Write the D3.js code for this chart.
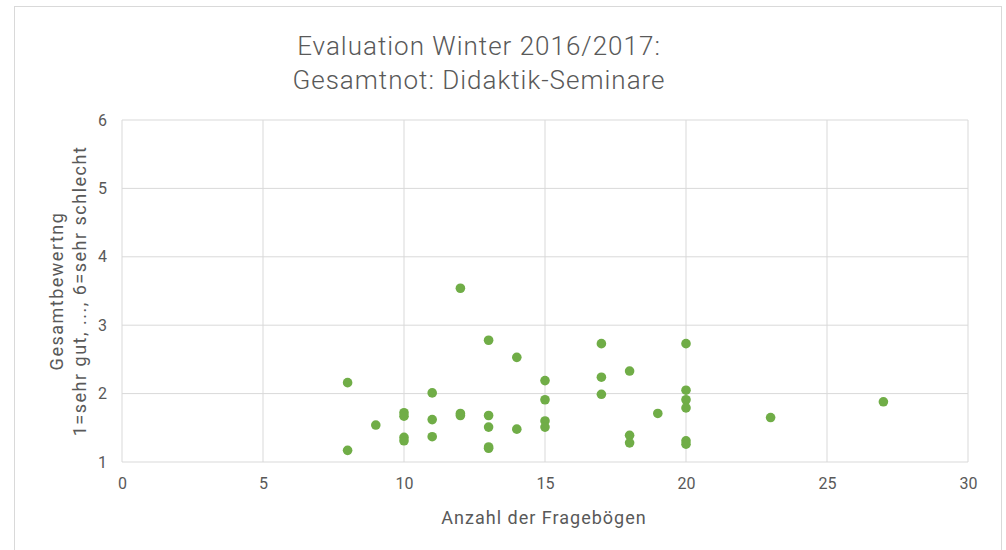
<!DOCTYPE html>
<html lang="de">
<head>
<meta charset="UTF-8">
<title>Evaluation Winter 2016/2017</title>
<script src="https://d3js.org/d3.v7.min.js"></script>
<style>
  body { margin: 0; background: #fff; }
  text { font-family: Roboto, "Open Sans", sans-serif; fill: #595959; }
</style>
</head>
<body>
<svg id="chart" width="1006" height="550"></svg>
<script>
// number of questionnaires per seminar
const anzahl = [8, 8, 9, 10, 10, 10, 10, 11, 11, 11, 12, 12, 12,
  13, 13, 13, 13, 13, 14, 14, 15, 15, 15, 15,
  17, 17, 17, 18, 18, 18, 19, 20, 20, 20, 20, 20, 20, 23, 27];
// overall grade (1 = sehr gut ... 6 = sehr schlecht)
const note = [2.16, 1.17, 1.54, 1.72, 1.67, 1.36, 1.31, 2.01, 1.62, 1.37, 3.54, 1.71, 1.68,
  2.78, 1.68, 1.51, 1.20, 1.22, 2.53, 1.48, 2.19, 1.91, 1.60, 1.51,
  2.73, 2.24, 1.99, 2.33, 1.39, 1.28, 1.71, 2.73, 2.05, 1.91, 1.79, 1.31, 1.26, 1.65, 1.88];
const xTicks = [0, 5, 10, 15, 20, 25, 30];
const yTicks = [1, 2, 3, 4, 5, 6];

const svg = d3.select('#chart');

// outer chart border
svg.append('rect')
  .attr('x', 14.5).attr('y', 6.5)
  .attr('width', 987).attr('height', 560)
  .attr('fill', 'none')
  .attr('stroke', '#d9d9d9');

const plotLeft = 122, plotRight = 968, plotTop = 120, plotBottom = 462;

const x = d3.scaleLinear().domain([0, 30]).range([plotLeft, plotRight]);
const y = d3.scaleLinear().domain([1, 6]).range([plotBottom, plotTop]);

// gridlines
const grid = svg.append('g');
grid.selectAll('.vgrid')
  .data(xTicks)
  .enter()
  .append('line')
  .attr('x1', d => x(d)).attr('x2', d => x(d))
  .attr('y1', plotTop).attr('y2', plotBottom)
  .attr('stroke', '#d9d9d9').attr('stroke-width', 1);
grid.selectAll('.hgrid')
  .data(yTicks)
  .enter()
  .append('line')
  .attr('x1', plotLeft).attr('x2', plotRight)
  .attr('y1', d => y(d)).attr('y2', d => y(d))
  .attr('stroke', '#d9d9d9').attr('stroke-width', 1);

// axes (labels only, lines come from grid)
const xAxis = svg.append('g')
  .attr('transform', `translate(0, ${plotBottom + 16})`)
  .call(d3.axisBottom(x).tickValues(xTicks).tickFormat(d3.format('d')).tickSize(0).tickPadding(0));
const yAxis = svg.append('g')
  .attr('transform', `translate(${plotLeft - 15}, 0)`)
  .call(d3.axisLeft(y).tickValues(yTicks).tickFormat(d3.format('d')).tickSize(0).tickPadding(0));
[xAxis, yAxis].forEach(a => {
  a.select('.domain').remove();
  a.selectAll('text')
    .attr('font-size', '16px')
    .attr('fill', '#595959')
    .style('font-family', 'Roboto, sans-serif');
});

// points
svg.append('g')
  .selectAll('circle')
  .data(anzahl.map((a, i) => ({ a: a, n: note[i] })))
  .enter()
  .append('circle')
  .attr('cx', d => x(d.a))
  .attr('cy', d => y(d.n))
  .attr('r', 4.8)
  .attr('fill', '#70ad47');

// title
const title = svg.append('text')
  .attr('text-anchor', 'middle')
  .attr('font-size', '26px')
  .attr('font-weight', 300)
  .attr('letter-spacing', '1px');
title.append('tspan').attr('x', 479).attr('y', 55).text('Evaluation Winter 2016/2017:');
title.append('tspan').attr('x', 479).attr('y', 89).text('Gesamtnot: Didaktik-Seminare');

// axis titles
svg.append('text')
  .attr('x', (plotLeft + plotRight) / 2 - 1).attr('y', 524)
  .attr('text-anchor', 'middle')
  .attr('font-size', '18px')
  .attr('letter-spacing', '1px')
  .text('Anzahl der Fragebögen');

const yTitle = svg.append('text')
  .attr('transform', 'translate(0, 291) rotate(-90)')
  .attr('text-anchor', 'middle')
  .attr('font-size', '18px')
  .attr('letter-spacing', '1.5px');
yTitle.append('tspan').attr('x', 0).attr('y', 63).text('Gesamtbewertng');
yTitle.append('tspan').attr('x', 0).attr('y', 86).text('1=sehr gut, ..., 6=sehr schlecht');
</script>
</body>
</html>
